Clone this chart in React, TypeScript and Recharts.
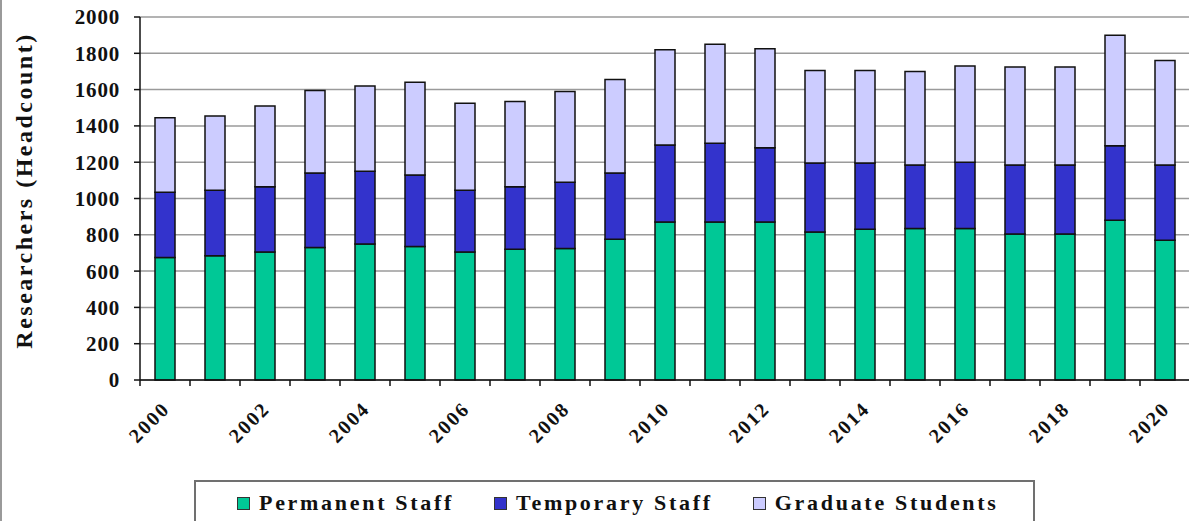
import React from 'react';
import { BarChart, Bar, XAxis, YAxis, CartesianGrid, Legend } from 'recharts';

const years = ['2000','2001','2002','2003','2004','2005','2006','2007','2008','2009','2010','2011','2012','2013','2014','2015','2016','2017','2018','2019','2020'];
const permanentStaff = [675,685,705,730,750,735,705,720,725,775,870,870,870,815,830,835,835,805,805,880,770];
const temporaryStaff = [360,360,360,410,400,395,340,345,365,365,425,435,410,380,365,350,365,380,380,410,415];
const graduateStudents = [410,410,445,455,470,510,480,470,500,515,525,545,545,510,510,515,530,540,540,610,575];
const yTicks = [0,200,400,600,800,1000,1200,1400,1600,1800,2000];
const seriesNames = ['Permanent Staff', 'Temporary Staff', 'Graduate Students'];

const data = years.map((y, i) => ({
  year: y,
  permanent: permanentStaff[i],
  temporary: temporaryStaff[i],
  graduate: graduateStudents[i],
}));

const FONT = "'Liberation Serif', 'Times New Roman', serif";

const XTick = (props: any) => {
  const { x, y, payload, index } = props;
  const half = payload && typeof payload.offset === 'number' && payload.offset > 0 ? payload.offset : 25;
  return (
    <g>
      <line x1={x - half} x2={x - half} y1={y} y2={y + 6} stroke="#111" strokeWidth={1.5} />
      {index % 2 === 0 ? (
        <g transform={`translate(${x + 6},${y + 30}) rotate(-45)`}>
          <text x={0} y={0} textAnchor="end" fill="#111" style={{ fontFamily: FONT, fontWeight: 'bold', fontSize: 20, letterSpacing: 2 }}>
            {payload.value}
          </text>
        </g>
      ) : null}
    </g>
  );
};

const renderLegend = (props: any) => {
  const payload = [...(props.payload || [])].sort(
    (a: any, b: any) => seriesNames.indexOf(a.value) - seriesNames.indexOf(b.value)
  );
  return (
    <div
      style={{
        width: 841,
        height: 52,
        border: '2px solid #707070',
        boxSizing: 'border-box',
        display: 'flex',
        flexWrap: 'nowrap',
        alignItems: 'flex-start',
        paddingLeft: 41,
        paddingTop: 10,
        background: '#fff',
        fontFamily: FONT,
        fontWeight: 'bold',
        fontSize: 22,
        letterSpacing: 2.7,
        color: '#111',
        lineHeight: 1,
        whiteSpace: 'nowrap',
      }}
    >
      {payload.map((p: any, i: number) => (
        <div key={i} style={{ display: 'flex', alignItems: 'center', marginRight: 40, flexShrink: 0, whiteSpace: 'nowrap' }}>
          <span
            style={{
              display: 'inline-block',
              width: 13,
              height: 13,
              flexShrink: 0,
              background: p.color,
              border: '1px solid #333',
              boxSizing: 'border-box',
              marginRight: 9,
            }}
          />
          <span style={{ whiteSpace: 'nowrap' }}>{p.value}</span>
        </div>
      ))}
    </div>
  );
};

const YLabel = (props: any) => {
  const vb = props.viewBox || { x: 0, y: 17, width: 140, height: 363 };
  const cx = vb.x + 32;
  const cy = vb.y + vb.height / 2 - 8;
  return (
    <text
      x={cx}
      y={cy}
      textAnchor="middle"
      transform={`rotate(-90, ${cx}, ${cy})`}
      fill="#111"
      style={{ fontFamily: FONT, fontWeight: 'bold', fontSize: 24, letterSpacing: 2.5 }}
    >
      Researchers (Headcount)
    </text>
  );
};

export default function App() {
  return (
    <div style={{ position: 'absolute', left: 0, top: 0, width: 1189, height: 521, overflow: 'hidden', background: '#fff' }}>
      <div style={{ position: 'absolute', left: 0, top: 0, width: 2, height: 521, background: '#9a9a9a' }} />
      <BarChart
        width={1200}
        height={521}
        data={data}
        margin={{ top: 17, right: 10, left: 0, bottom: 0 }}
        barSize={20}
      >
        <CartesianGrid vertical={false} stroke="#9a9a9a" strokeWidth={1.5} />
        <XAxis
          dataKey="year"
          height={141}
          interval={0}
          tickLine={false}
          tickSize={0}
          tickMargin={0}
          axisLine={{ stroke: '#111', strokeWidth: 1.5 }}
          tick={<XTick />}
        />
        <YAxis
          width={140}
          domain={[0, 2000]}
          ticks={yTicks}
          interval={0}
          tickSize={6}
          tickMargin={14}
          axisLine={{ stroke: '#111', strokeWidth: 1.5 }}
          tickLine={{ stroke: '#111', strokeWidth: 1.5 }}
          tick={{ fill: '#111', style: { fontFamily: FONT, fontWeight: 'bold', fontSize: 21, letterSpacing: 0.8 } }}
          label={<YLabel />}
        />
        <Legend
          layout="horizontal"
          verticalAlign="middle"
          align="center"
          content={renderLegend}
          wrapperStyle={{ left: 194, top: 480, width: 841, height: 52, whiteSpace: 'nowrap' }}
        />
        <Bar dataKey="permanent" name={seriesNames[0]} stackId="a" fill="#00C896" stroke="#111" strokeWidth={1.5} isAnimationActive={false} />
        <Bar dataKey="temporary" name={seriesNames[1]} stackId="a" fill="#3333CC" stroke="#111" strokeWidth={1.5} isAnimationActive={false} />
        <Bar dataKey="graduate" name={seriesNames[2]} stackId="a" fill="#CCCCFF" stroke="#111" strokeWidth={1.5} isAnimationActive={false} />
      </BarChart>
    </div>
  );
}
